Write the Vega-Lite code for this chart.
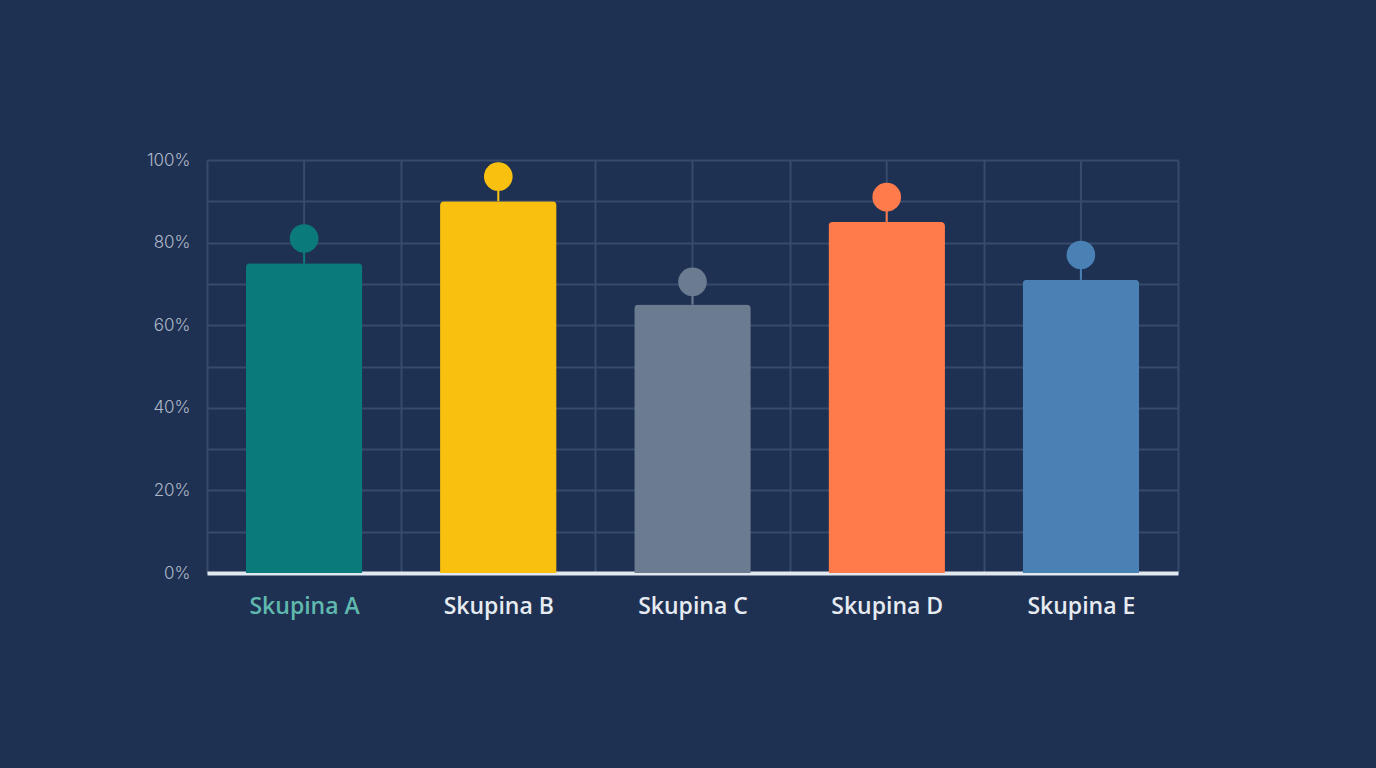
{
  "$schema": "https://vega.github.io/schema/vega-lite/v6.json",
  "autosize": {"type": "none"},
  "width": 971,
  "height": 413,
  "padding": {"left": 207, "top": 160, "right": 198, "bottom": 195},
  "background": "#1f3152",
  "config": {
    "view": {"stroke": null},
    "font": "Inter"
  },
  "data": {
    "values": [
      {"group": "Skupina A", "value": 75, "marker": 81, "color": "#0b7a7b"},
      {"group": "Skupina B", "value": 90, "marker": 96, "color": "#f9c00f"},
      {"group": "Skupina C", "value": 65, "marker": 70.5, "color": "#6b7c90"},
      {"group": "Skupina D", "value": 85, "marker": 91, "color": "#ff7b4b"},
      {"group": "Skupina E", "value": 71, "marker": 77, "color": "#4a81b4"}
    ]
  },
  "encoding": {
    "x": {
      "field": "group",
      "type": "nominal",
      "sort": null,
      "title": null,
      "scale": {"paddingInner": 0, "paddingOuter": 0},
      "axis": {
        "grid": true,
        "gridColor": "#374b6c",
        "gridWidth": 2,
        "tickBand": "extent",
        "ticks": false,
        "domainColor": "#e2e8ef",
        "domainWidth": 4,
        "labelAngle": 0,
        "labelPadding": 22,
        "labelFont": "Open Sans",
        "labelFontSize": 23,
        "labelFontWeight": 600,
        "labelColor": {"condition": {"test": "datum.value == 'Skupina A'", "value": "#5fb9ae"}, "value": "#e6ebf1"}
      }
    }
  },
  "layer": [
    {
      "mark": {"type": "rule", "color": "#374b6c", "strokeWidth": 2},
      "encoding": {}
    },
    {
      "mark": {"type": "bar", "width": {"band": 0.6}, "cornerRadiusTopLeft": 4, "cornerRadiusTopRight": 4},
      "encoding": {
        "y": {
          "field": "value",
          "type": "quantitative",
          "title": null,
          "scale": {"domain": [0, 100], "nice": false},
          "axis": {
            "values": [0, 10, 20, 30, 40, 50, 60, 70, 80, 90, 100],
            "labelExpr": "datum.value % 20 == 0 ? datum.value + '%' : ''",
            "grid": true,
            "gridColor": "#374b6c",
            "gridWidth": 2,
            "domain": false,
            "ticks": false,
            "labelPadding": 17,
            "labelFontSize": 17,
            "labelFontWeight": 300,
            "labelColor": "#aeb8c7"
          }
        },
        "color": {"field": "color", "type": "nominal", "scale": null}
      }
    },
    {
      "mark": {"type": "rule", "strokeWidth": 2},
      "encoding": {
        "y": {"field": "value", "type": "quantitative"},
        "y2": {"field": "marker"},
        "color": {"field": "color", "type": "nominal", "scale": null}
      }
    },
    {
      "mark": {"type": "point", "filled": true, "opacity": 1, "size": 820},
      "encoding": {
        "y": {"field": "marker", "type": "quantitative"},
        "color": {"field": "color", "type": "nominal", "scale": null}
      }
    }
  ]
}
